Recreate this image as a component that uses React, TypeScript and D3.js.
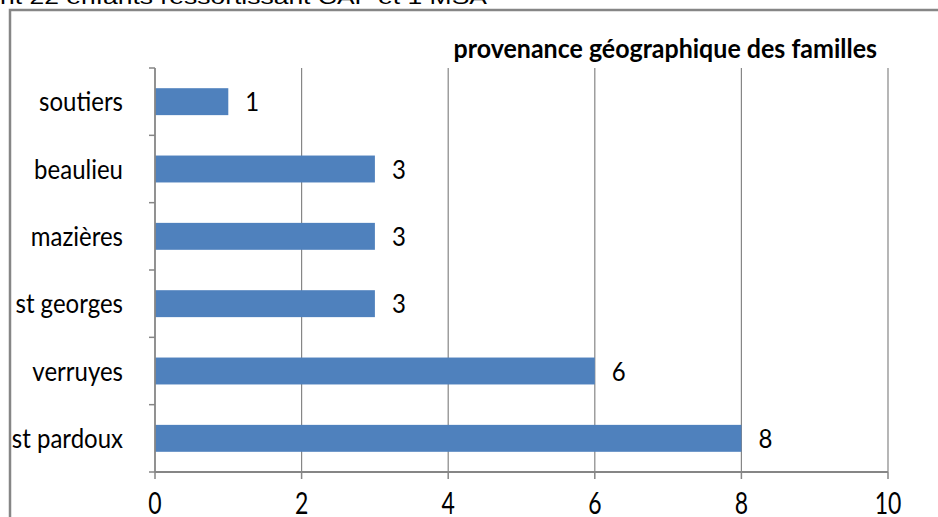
import React from "react";
import * as d3 from "d3";

const categories = ["soutiers", "beaulieu", "mazières", "st georges", "verruyes", "st pardoux"];
const values = [1, 3, 3, 3, 6, 8];
const xTicks = [0, 2, 4, 6, 8, 10];
const chartTitle = "provenance géographique des familles";
const headerText = "nt 22  enfants ressortissant CAF et 1 MSA";

const font = "Lato, 'Open Sans', sans-serif";

function T(props: { x: number; y: number; s?: number; size: number; anchor?: string; weight?: string; children: React.ReactNode; mid?: boolean }) {
  const { x, y, s = 1.15, size, anchor = "start", weight = "normal", children, mid } = props;
  return (
    <text transform={`translate(${x},${y}) scale(1,${s})`} x={0} y={0} dy={mid ? "0.35em" : undefined} textAnchor={anchor} fontFamily={font} fontSize={size} fontWeight={weight} fill="#000">
      {children}
    </text>
  );
}

export default function App() {
  const W = 938, H = 517;
  const x = d3.scaleLinear().domain([0, 10]).range([155, 888]);
  const y = d3.scaleBand<string>().domain(categories).range([68, 472]).paddingInner(0.6).paddingOuter(0.3);
  const step = y.step();
  const bounds = d3.range(categories.length + 1).map((i) => 68 + i * step);
  const gray = "#868686";
  return (
    <svg width={W} height={H} style={{ position: "absolute", left: 0, top: 0, background: "#fff" }}>
      <text x={0} y={4} fontFamily="'Liberation Sans', Arial, sans-serif" fontSize={20} fill="#000" textLength={487} lengthAdjust="spacingAndGlyphs">{headerText}</text>
      <rect x={10} y={10} width={940} height={520} fill="none" stroke={gray} strokeWidth={2.5} />
      {xTicks.slice(1).map((t) => (
        <line key={"g" + t} x1={x(t)} x2={x(t)} y1={68} y2={472} stroke={gray} strokeWidth={1.2} />
      ))}
      {categories.map((c, i) => (
        <rect key={c} x={x(0)} y={y(c)!} width={x(values[i]) - x(0)} height={y.bandwidth()} fill="#4F81BD" />
      ))}
      <line x1={x(0)} x2={x(0)} y1={68} y2={472} stroke={gray} strokeWidth={1.8} />
      {bounds.map((b, i) => (
        <line key={"yt" + i} x1={x(0) - 6} x2={x(0)} y1={b} y2={b} stroke={gray} strokeWidth={1.5} />
      ))}
      <line x1={x(0)} x2={x(10)} y1={472} y2={472} stroke={gray} strokeWidth={1.8} />
      {xTicks.map((t) => (
        <line key={"xt" + t} x1={x(t)} x2={x(t)} y1={472} y2={479} stroke={gray} strokeWidth={1.5} />
      ))}
      {xTicks.map((t) => (
        <T key={"xl" + t} x={x(t)} y={514} size={23} s={1.3} anchor="middle">{t}</T>
      ))}
      {categories.map((c) => (
        <T key={"cl" + c} x={123} y={y(c)! + y.bandwidth() / 2} size={24} anchor="end" mid>{c}</T>
      ))}
      {categories.map((c, i) => (
        <T key={"vl" + c} x={x(values[i]) + 17} y={y(c)! + y.bandwidth() / 2} size={24} mid>{values[i]}</T>
      ))}
      <T x={877} y={58} size={25} s={1.1} anchor="end" weight="bold">{chartTitle}</T>
    </svg>
  );
}
